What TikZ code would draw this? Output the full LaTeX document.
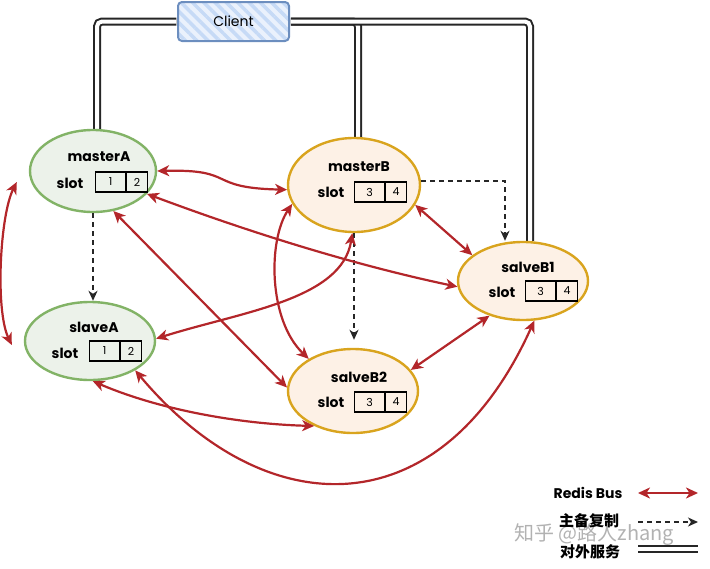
\documentclass[tikz,border=0pt]{standalone}
\usepackage{fontspec}
\setmainfont{Poppins}
\newfontfamily\cjk{Noto Sans CJK SC}
\usetikzlibrary{arrows.meta,shapes.geometric,patterns.meta,backgrounds}
\definecolor{busred}{HTML}{B3262A}
\definecolor{grnline}{HTML}{82B366}
\definecolor{grnfill}{HTML}{ECF2EA}
\definecolor{orgline}{HTML}{D9A41E}
\definecolor{orgfill}{HTML}{FDF1E6}
\definecolor{cliline}{HTML}{6C8EBF}
\definecolor{clibase}{HTML}{EAF1FC}
\definecolor{clifill}{HTML}{C6DAF6}
\begin{document}
\begin{tikzpicture}[x=1pt,y=-1pt,
  redisnode/.style={ellipse, line width=2.4pt, inner sep=0pt},
  grnnode/.style={redisnode, draw=grnline, fill=grnfill},
  orgnode/.style={redisnode, draw=orgline, fill=orgfill},
  titletext/.style={font=\bfseries\fontsize{14}{16}\selectfont, inner sep=0pt},
  slotlbl/.style={font=\bfseries\fontsize{14}{16}\selectfont, inner sep=0pt},
  slotcell/.style={draw, line width=1.1pt, minimum height=20pt, inner sep=0pt, font=\fontsize{11}{12}\selectfont},
  cellA/.style={slotcell, minimum width=30pt, anchor=west},
  cellB/.style={slotcell, minimum width=21pt, anchor=west},
  bus/.style={busred, line width=2.2pt, {Stealth[length=12pt,width=11pt,inset=3.5pt]}-{Stealth[length=12pt,width=11pt,inset=3.5pt]}},
  repl/.style={black!85, line width=1.6pt, dash pattern=on 5pt off 4pt, -{Stealth[length=10pt,width=9pt,inset=3pt]}},
  svc/.style={draw=black!85, double=white, double distance=4pt, line width=2pt, rounded corners=5pt},
  legtext/.style={inner sep=0pt},
]
\useasboundingbox (0,0) rectangle (710,568);

% ---- client ----
\node[draw=cliline, line width=2pt, rounded corners=4pt, minimum width=111pt, minimum height=39pt,
      preaction={fill=clibase}, pattern={Lines[angle=-45,distance=8pt,line width=3.5pt]}, pattern color=clifill,
      font=\fontsize{14}{16}\selectfont] (cl) at (233.5,21.5) {Client};

% ---- redis nodes ----
\node[grnnode, minimum width=126pt, minimum height=82pt] (mA) at (93,171) {};
\node[orgnode, minimum width=132pt, minimum height=94pt] (mB) at (354,185) {};
\node[grnnode, minimum width=130pt, minimum height=78pt] (sA) at (90,341) {};
\node[orgnode, minimum width=130pt, minimum height=84pt] (sB2) at (353,391) {};
\node[orgnode, minimum width=130pt, minimum height=78pt] (sB1) at (523,281) {};

% masterA
\node[titletext] (mAt) at (99,157) {masterA};
\node[slotlbl] (mAs) at (70,183) {slot};
\node[cellA] (mA1) at (95,182) {1};
\node[cellB] (mA2) at (mA1.east) {2};
% masterB
\node[titletext] (mBt) at (359,167) {masterB};
\node[slotlbl] (mBs) at (331,192) {slot};
\node[cellA] (mB1) at (354,192) {3};
\node[cellB] (mB2) at (mB1.east) {4};
% slaveA
\node[titletext] (sAt) at (94,327) {slaveA};
\node[slotlbl] (sAs) at (65,353) {slot};
\node[cellA] (sA1) at (89,351) {1};
\node[cellB] (sA2) at (sA1.east) {2};
% salveB2
\node[titletext] (sB2t) at (359,377) {salveB2};
\node[slotlbl] (sB2s) at (331,402) {slot};
\node[cellA] (sB21) at (354,402) {3};
\node[cellB] (sB22) at (sB21.east) {4};
% salveB1
\node[titletext] (sB1t) at (528,267) {salveB1};
\node[slotlbl] (sB1s) at (502,292) {slot};
\node[cellA] (sB11) at (525,291) {3};
\node[cellB] (sB12) at (sB11.east) {4};

% ---- external service (double lines) ----
\begin{scope}[on background layer]
\draw[svc] (cl.west) -| ([xshift=4pt]mA.north);
\draw[svc] (cl.east) -| ([xshift=4pt]mB.north);
\draw[svc] (cl.east) -| ([xshift=7pt]sB1.north);
\end{scope}

% ---- replication ----
\draw[repl] (mA.south) -- (mA.south |- sA.north);
\draw[repl, shorten >=8pt] (mB.south) -- (mB.south |- sB2.north);
\draw[repl] ([yshift=4pt]mB.east) -| ([xshift=-18pt]sB1.north);

% ---- redis bus ----
\draw[bus] (mA.east) .. controls (238,169) and (205,188) .. (mB.184);
\draw[bus] (mA.-23) .. controls (230,225) and (340,262) .. (sB1.185);
\draw[bus] (mA.-63) -- (sB2.177);
\draw[bus] (mB.-92) .. controls (342,300) and (240,312) .. (sA.2);
\draw[bus] (mB.197) .. controls (268,240) and (268,320) .. (sB2.144);
\draw[bus] (mB.-18) -- (sB1.153);
\draw[bus] (sB1.226) -- (sB2.20);
\draw[bus] (sA.-33) .. controls (265,525) and (440,530) .. (sB1.-74);
\draw[bus] (sA.-86) .. controls (160,410) and (240,424) .. (sB2.222);
\draw[bus] ([xshift=-12pt,yshift=-11pt]mA.west) .. controls (0,215) and (-5,310) .. ([xshift=-12pt,yshift=-4pt]sA.west);

% ---- watermark ----
\node[anchor=west, inner sep=0pt, text=black!30, font=\cjk\fontsize{20}{22}\selectfont] (wm) at (514,535) {知乎 @路人zhang};

% ---- legend ----
\node[legtext, font=\bfseries\fontsize{14}{16}\selectfont] (lg1) at (588,493) {Redis Bus};
\coordinate (lg1a) at (638,493);
\coordinate (lg1b) at (698,493);
\draw[bus] (lg1a) -- (lg1b);
\node[legtext, font=\cjk\bfseries\fontsize{15}{17}\selectfont] (lg2) at (589,521) {主备复制};
\coordinate (lg2a) at (638,522);
\coordinate (lg2b) at (698,522);
\draw[repl] (lg2a) -- (lg2b);
\node[legtext, font=\cjk\bfseries\fontsize{15}{17}\selectfont] (lg3) at (590,552) {对外服务};
\coordinate (lg3a) at (638,549);
\coordinate (lg3b) at (698,549);
\draw[svc] (lg3a) -- (lg3b);
\end{tikzpicture}
\end{document}
